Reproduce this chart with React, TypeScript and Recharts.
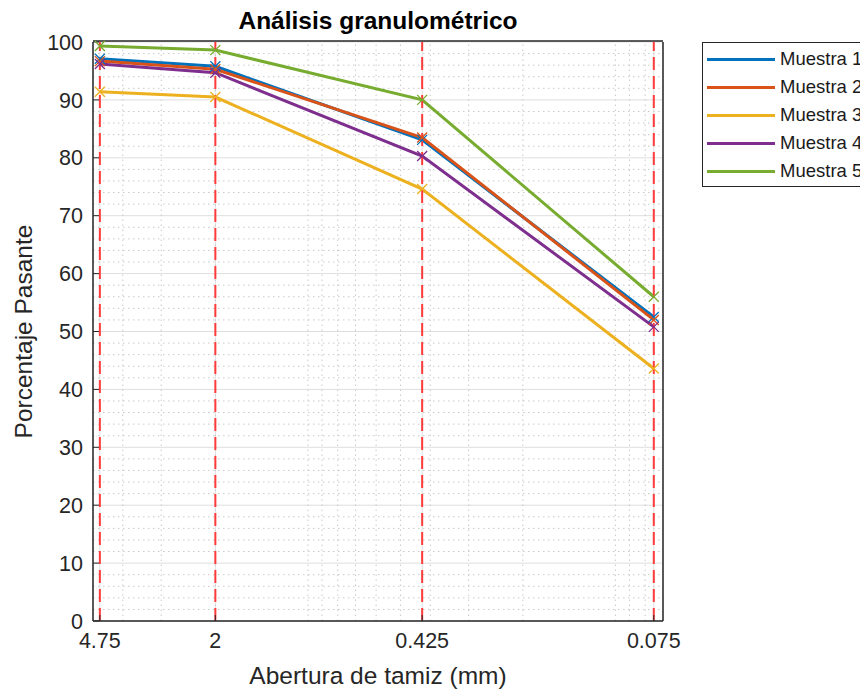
import React from 'react';
import {
    LineChart,
    Line,
    XAxis,
    YAxis,
    CartesianGrid,
    ReferenceLine,
    Legend,
    Label,
} from 'recharts';

// sieve openings (mm), plotted on a reversed log axis
const sieves = [4.75, 2, 0.425, 0.075];

// percentage passing for each sample
const muestra1 = [97.1, 95.8, 83.1, 52.5];
const muestra2 = [96.7, 95.3, 83.5, 52.0];
const muestra3 = [91.4, 90.5, 74.6, 43.6];
const muestra4 = [96.2, 94.7, 80.3, 50.8];
const muestra5 = [99.3, 98.6, 90.0, 56.0];

const seriesNames = ['Muestra 1', 'Muestra 2', 'Muestra 3', 'Muestra 4', 'Muestra 5'];
const seriesColors = ['#0072BD', '#D95319', '#EDB120', '#7E2F8E', '#77AC30'];

const yTicks = [0, 10, 20, 30, 40, 50, 60, 70, 80, 90, 100];
const yMinor = [
    2, 4, 6, 8, 12, 14, 16, 18, 22, 24, 26, 28, 32, 34, 36, 38, 42, 44, 46, 48,
    52, 54, 56, 58, 62, 64, 66, 68, 72, 74, 76, 78, 82, 84, 86, 88, 92, 94, 96, 98,
];
const xMinor = [4, 3, 2, 1, 0.9, 0.8, 0.7, 0.6, 0.5, 0.4, 0.3, 0.2, 0.1, 0.09, 0.08];

const data = sieves.map((s, i) => ({
    x: s,
    m1: muestra1[i],
    m2: muestra2[i],
    m3: muestra3[i],
    m4: muestra4[i],
    m5: muestra5[i],
}));
const keys = ['m1', 'm2', 'm3', 'm4', 'm5'];

const AXIS = '#262626';
const FONT = '"Liberation Sans", Arial, Helvetica, sans-serif';
const X_DOMAIN: [number, number] = [0.07, 5];
const TICK_FONT = 21.5;
const LABEL_FONT = 24.5;

// MATLAB-style 'x' marker
function Cross(props: any) {
    const { cx, cy, stroke } = props;
    if (cx == null || cy == null) return null;
    const r = 5;
    return (
        <path
            d={`M${cx - r},${cy - r}L${cx + r},${cy + r}M${cx - r},${cy + r}L${cx + r},${cy - r}`}
            stroke={stroke}
            strokeWidth={1.3}
            fill="none"
        />
    );
}

function LegendBox() {
    return (
        <div
            style={{
                boxSizing: 'border-box',
                width: 166,
                height: 145,
                border: `1.5px solid ${AXIS}`,
                borderRight: 'none',
                background: '#fff',
                paddingTop: 2,
                fontFamily: FONT,
            }}
        >
            {seriesNames.map((name, i) => (
                <div key={name} style={{ display: 'flex', alignItems: 'center', height: 28.1 }}>
                    <div
                        style={{
                            marginLeft: 4,
                            width: 68,
                            height: 3,
                            background: seriesColors[i],
                        }}
                    />
                    <span style={{ marginLeft: 5, fontSize: 18.5, color: '#1a1a1a', whiteSpace: 'nowrap' }}>
                        {name}
                    </span>
                </div>
            ))}
        </div>
    );
}

export default function App() {
    return (
        <div style={{ width: 860, height: 684, fontFamily: FONT }}>
            <LineChart
                width={860}
                height={684}
                data={data}
                margin={{ top: 32, right: 204, bottom: 69, left: 0 }}
            >
                <CartesianGrid stroke="#dedede" strokeWidth={1} />
                {yMinor.map((v) => (
                    <ReferenceLine key={`ym-${v}`} y={v} stroke="#c9c9c9" strokeDasharray="1.5 3.5" />
                ))}
                {xMinor.map((v) => (
                    <ReferenceLine key={`xm-${v}`} x={v} stroke="#c9c9c9" strokeDasharray="1.5 3.5" />
                ))}

                <XAxis
                    dataKey="x"
                    type="number"
                    scale="log"
                    domain={X_DOMAIN}
                    allowDataOverflow
                    reversed
                    ticks={sieves}
                    interval={0}
                    height={1}
                    tickSize={-6}
                    tickMargin={18}
                    axisLine={{ stroke: AXIS, strokeWidth: 1.5 }}
                    tickLine={{ stroke: AXIS }}
                    tick={{ fill: AXIS, fontSize: TICK_FONT }}
                >
                    <Label
                        value="Abertura de tamiz (mm)"
                        position="bottom"
                        offset={45}
                        style={{ fill: AXIS, fontSize: LABEL_FONT }}
                    />
                </XAxis>
                <XAxis
                    xAxisId="minorB"
                    type="number"
                    scale="log"
                    domain={X_DOMAIN}
                    allowDataOverflow
                    reversed
                    ticks={xMinor}
                    interval={0}
                    height={1}
                    tickSize={-4}
                    axisLine={false}
                    tickLine={{ stroke: AXIS }}
                    tick={false}
                />
                <XAxis
                    xAxisId="top"
                    orientation="top"
                    type="number"
                    scale="log"
                    domain={X_DOMAIN}
                    allowDataOverflow
                    reversed
                    ticks={sieves}
                    interval={0}
                    height={1}
                    tickSize={-6}
                    axisLine={{ stroke: AXIS, strokeWidth: 1.5 }}
                    tickLine={{ stroke: AXIS }}
                    tick={false}
                >
                    <Label
                        value="Análisis granulométrico"
                        position="top"
                        offset={11}
                        style={{ fill: '#000', fontSize: LABEL_FONT, fontWeight: 'bold' }}
                    />
                </XAxis>
                <XAxis
                    xAxisId="minorT"
                    orientation="top"
                    type="number"
                    scale="log"
                    domain={X_DOMAIN}
                    allowDataOverflow
                    reversed
                    ticks={xMinor}
                    interval={0}
                    height={1}
                    tickSize={-4}
                    axisLine={false}
                    tickLine={{ stroke: AXIS }}
                    tick={false}
                />

                <YAxis
                    type="number"
                    domain={[0, 100]}
                    ticks={yTicks}
                    interval={0}
                    width={85}
                    tickSize={-6}
                    tickMargin={16}
                    axisLine={{ stroke: AXIS, strokeWidth: 1.5 }}
                    tickLine={{ stroke: AXIS }}
                    tick={{ fill: AXIS, fontSize: TICK_FONT }}
                >
                    <Label
                        value="Porcentaje Pasante"
                        angle={-90}
                        position="insideLeft"
                        offset={15}
                        style={{ fill: AXIS, fontSize: LABEL_FONT, textAnchor: 'middle' }}
                    />
                </YAxis>
                <YAxis
                    yAxisId="right"
                    orientation="right"
                    type="number"
                    domain={[0, 100]}
                    ticks={yTicks}
                    interval={0}
                    width={1}
                    tickSize={-6}
                    axisLine={{ stroke: AXIS, strokeWidth: 1.5 }}
                    tickLine={{ stroke: AXIS }}
                    tick={false}
                />

                {keys.map((k, i) => (
                    <Line
                        key={k}
                        type="linear"
                        dataKey={k}
                        name={seriesNames[i]}
                        stroke={seriesColors[i]}
                        strokeWidth={3}
                        dot={<Cross />}
                        activeDot={false}
                        isAnimationActive={false}
                    />
                ))}

                {sieves.map((s) => (
                    <ReferenceLine
                        key={`sieve-${s}`}
                        x={s}
                        stroke="#ff3b3b"
                        strokeWidth={2}
                        strokeDasharray="13 6"
                    />
                ))}

                <Legend
                    layout="vertical"
                    align="center"
                    verticalAlign="middle"
                    wrapperStyle={{ left: 694, top: 34, width: 166, height: 145 }}
                    content={() => <LegendBox />}
                />
            </LineChart>
        </div>
    );
}
